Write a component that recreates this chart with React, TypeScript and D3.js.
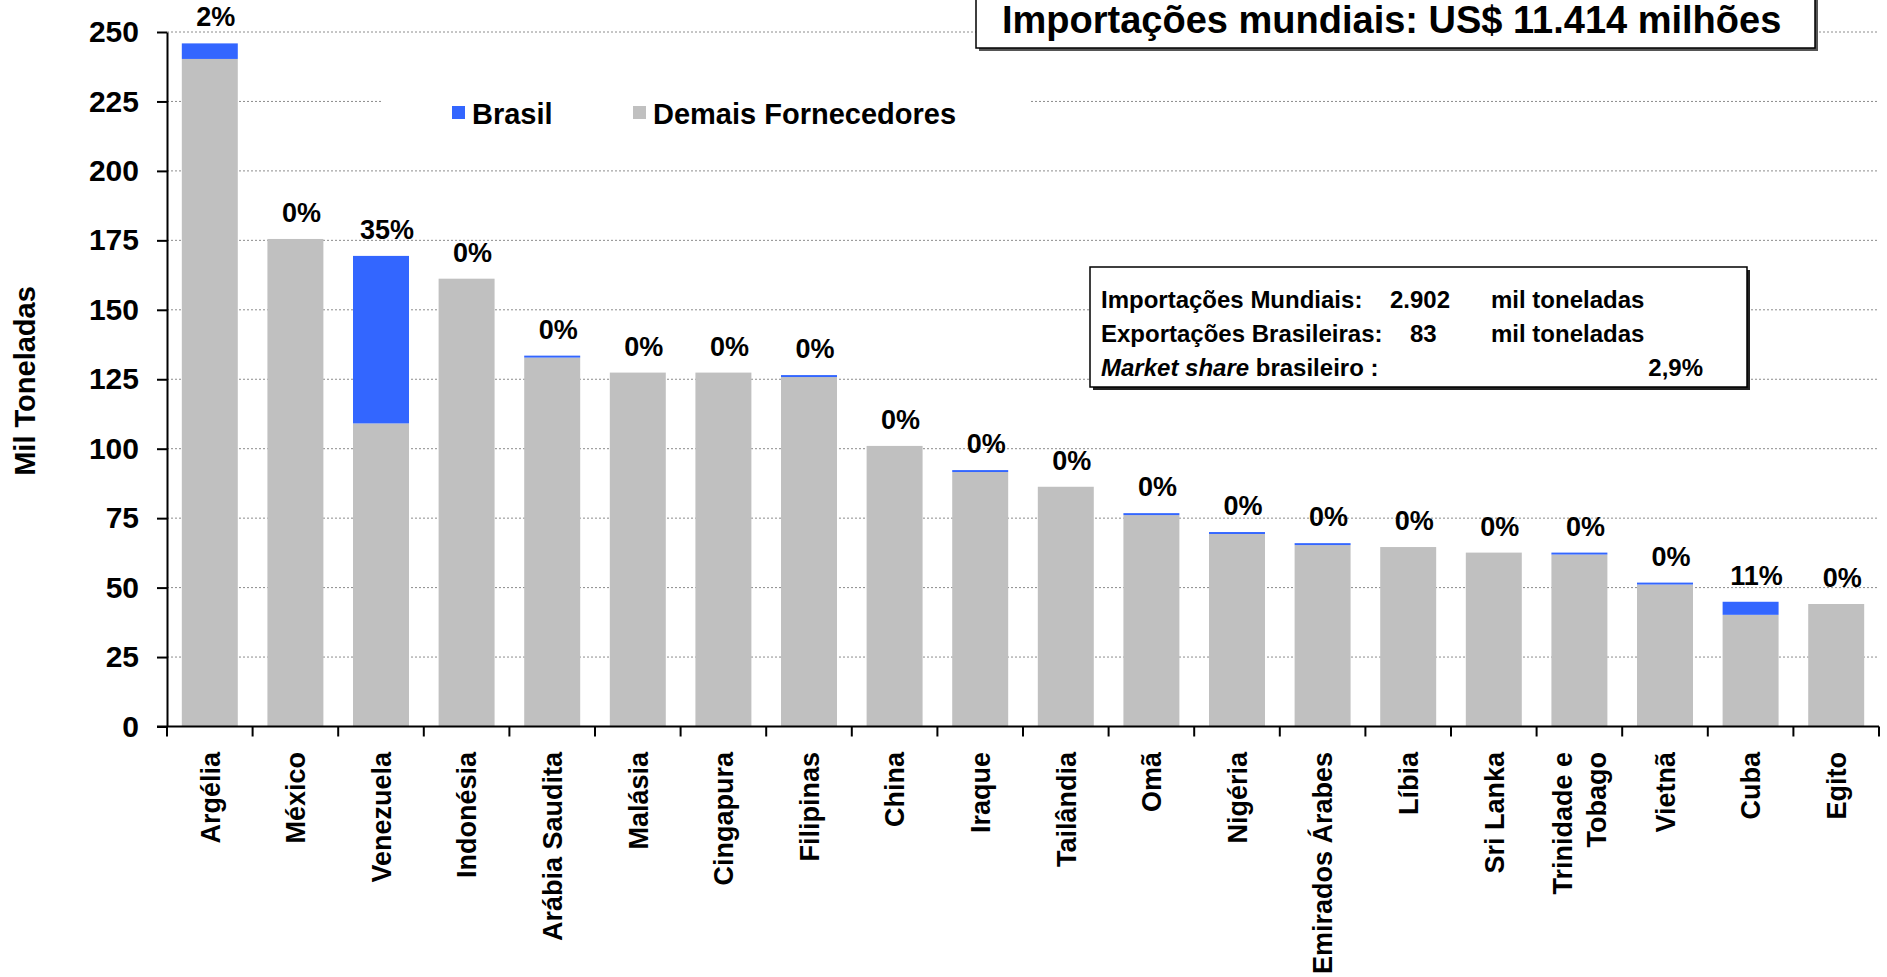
import React, { useEffect, useRef } from "react";
import * as d3 from "d3";

const categories = [
  "Argélia", "México", "Venezuela", "Indonésia", "Arábia Saudita", "Malásia", "Cingapura",
  "Filipinas", "China", "Iraque", "Tailândia", "Omã", "Nigéria", "Emirados Árabes", "Líbia",
  "Sri Lanka", "Trinidade e\nTobago", "Vietnã", "Cuba", "Egito",
];
const demais = [240.3, 175.5, 109.1, 161.2, 132.8, 127.4, 127.4, 125.8, 101.0, 91.6, 86.3, 76.1, 69.3, 65.3, 64.6, 62.6, 61.9, 51.1, 40.2, 44.1];
const brasil = [5.6, 0, 60.3, 0, 0.7, 0, 0, 0.7, 0, 0.7, 0, 0.7, 0.7, 0.7, 0, 0, 0.7, 0.7, 4.7, 0];
const shares = ["2%", "0%", "35%", "0%", "0%", "0%", "0%", "0%", "0%", "0%", "0%", "0%", "0%", "0%", "0%", "0%", "0%", "0%", "11%", "0%"];
const yTicks = [0, 25, 50, 75, 100, 125, 150, 175, 200, 225, 250];
const infoLines = [
  { label: "Importações Mundiais:", value: "2.902", unit: "mil toneladas" },
  { label: "Exportações Brasileiras:", value: "83", unit: "mil toneladas" },
];

const FONT = "'Liberation Sans', Arial, Helvetica, sans-serif";
const GREY = "#C0C0C0";
const BLUE = "#3366FF";

const App: React.FC = () => {
  const ref = useRef<SVGSVGElement | null>(null);

  useEffect(() => {
    if (!ref.current) return;
    const width = 1887;
    const height = 977;
    const svg = d3.select(ref.current);
    svg.selectAll("*").remove();
    svg.attr("width", width).attr("height", height).style("font-family", FONT);

    const left = 167;
    const right = 1879;
    const top = 32;
    const bottom = 726.5;

    const x = d3.scaleBand<string>().domain(categories).range([left, right]).paddingInner(0.346).paddingOuter(0.173);
    const y = d3.scaleLinear().domain([0, 250]).range([bottom, top]);

    // gridlines (dotted)
    svg.append("g")
      .selectAll("line")
      .data(yTicks.filter((t) => t > 0))
      .join("line")
      .attr("x1", left)
      .attr("x2", right)
      .attr("y1", (d) => y(d))
      .attr("y2", (d) => y(d))
      .attr("stroke", "#8c8c8c")
      .attr("stroke-width", 1)
      .attr("stroke-dasharray", "2,2");

    // legend background hides the 225 gridline
    svg.append("rect").attr("x", 383).attr("y", 80).attr("width", 646).attr("height", 58).attr("fill", "#fff");

    // bars
    const bars = svg.append("g");
    categories.forEach((c, i) => {
      bars.append("rect")
        .attr("x", x(c)!)
        .attr("width", x.bandwidth())
        .attr("y", y(demais[i]))
        .attr("height", y(0) - y(demais[i]))
        .attr("fill", GREY);
      if (brasil[i] > 0) {
        bars.append("rect")
          .attr("x", x(c)!)
          .attr("width", x.bandwidth())
          .attr("y", y(demais[i] + brasil[i]))
          .attr("height", y(demais[i]) - y(demais[i] + brasil[i]))
          .attr("fill", BLUE);
      }
      bars.append("text")
        .attr("x", x(c)! + x.bandwidth() / 2 + 6)
        .attr("y", y(demais[i] + brasil[i]) - 17)
        .attr("text-anchor", "middle")
        .attr("font-size", 27)
        .attr("font-weight", "bold")
        .text(shares[i]);
    });

    // y axis
    const yAxis = svg.append("g")
      .attr("transform", `translate(${left},0)`)
      .call(d3.axisLeft(y).tickValues(yTicks).tickSize(10).tickSizeOuter(0).tickPadding(18));
    yAxis.select(".domain").attr("stroke", "#000").attr("stroke-width", 2);
    yAxis.selectAll(".tick line").attr("stroke", "#000").attr("stroke-width", 2);
    yAxis.selectAll(".tick text")
      .attr("font-size", 30)
      .attr("font-weight", "bold")
      .attr("font-family", FONT)
      .attr("fill", "#000");

    // x axis line with ticks on band boundaries
    svg.append("line")
      .attr("x1", left - 10)
      .attr("x2", right)
      .attr("y1", bottom)
      .attr("y2", bottom)
      .attr("stroke", "#000")
      .attr("stroke-width", 2);
    const bounds = d3.range(categories.length + 1).map((i) => x.range()[0] + i * x.step());
    svg.append("g")
      .selectAll("line")
      .data(bounds)
      .join("line")
      .attr("x1", (d) => d)
      .attr("x2", (d) => d)
      .attr("y1", bottom)
      .attr("y2", bottom + 10)
      .attr("stroke", "#000")
      .attr("stroke-width", 2);

    // category labels, rotated
    categories.forEach((c) => {
      const lines = c.split("\n");
      const g = svg.append("g")
        .attr("transform", `translate(${x(c)! + x.bandwidth() / 2},752) rotate(-90)`);
      lines.forEach((ln, j) => {
        g.append("text")
          .attr("x", 0)
          .attr("y", (j - (lines.length - 1) / 2) * 34)
          .attr("dy", "0.36em")
          .attr("text-anchor", "end")
          .attr("font-size", 27)
          .attr("font-weight", "bold")
          .text(ln);
      });
    });

    // y axis title
    svg.append("text")
      .attr("transform", "translate(35,381) rotate(-90)")
      .attr("text-anchor", "middle")
      .attr("font-size", 29)
      .attr("font-weight", "bold")
      .text("Mil Toneladas");

    // legend
    const legend = [
      { name: "Brasil", color: BLUE, x: 452 },
      { name: "Demais Fornecedores", color: GREY, x: 633 },
    ];
    legend.forEach((l) => {
      svg.append("rect").attr("x", l.x).attr("y", 106).attr("width", 13).attr("height", 13).attr("fill", l.color);
      svg.append("text")
        .attr("x", l.x + 20)
        .attr("y", 124)
        .attr("font-size", 29)
        .attr("font-weight", "bold")
        .text(l.name);
    });

    // title box
    svg.append("rect").attr("x", 979).attr("y", -10).attr("width", 839).attr("height", 61).attr("fill", "#555");
    svg.append("rect").attr("x", 976).attr("y", -10).attr("width", 839).attr("height", 58)
      .attr("fill", "#fff").attr("stroke", "#000").attr("stroke-width", 1.5);
    svg.append("text")
      .attr("x", 1002)
      .attr("y", 33)
      .attr("font-size", 38)
      .attr("font-weight", "bold")
      .text("Importações mundiais: US$ 11.414 milhões");

    // info box
    svg.append("rect").attr("x", 1093).attr("y", 270).attr("width", 657).attr("height", 120).attr("fill", "#222");
    svg.append("rect").attr("x", 1090).attr("y", 267).attr("width", 657).attr("height", 120)
      .attr("fill", "#fff").attr("stroke", "#000").attr("stroke-width", 1.5);
    const info = svg.append("g").attr("font-size", 24).attr("font-weight", "bold");
    infoLines.forEach((l, i) => {
      const yy = 308 + i * 34;
      info.append("text").attr("x", 1101).attr("y", yy).text(l.label);
      info.append("text").attr("x", i === 0 ? 1390 : 1410).attr("y", yy).text(l.value);
      info.append("text").attr("x", 1491).attr("y", yy).text(l.unit);
    });
    const last = info.append("text").attr("x", 1101).attr("y", 376);
    last.append("tspan").attr("font-style", "italic").text("Market share");
    last.append("tspan").text(" brasileiro :");
    info.append("text").attr("x", 1703).attr("y", 376).attr("text-anchor", "end").text("2,9%");
  }, []);

  return <svg ref={ref} style={{ position: "absolute", left: 0, top: 0 }}></svg>;
};

export default App;
